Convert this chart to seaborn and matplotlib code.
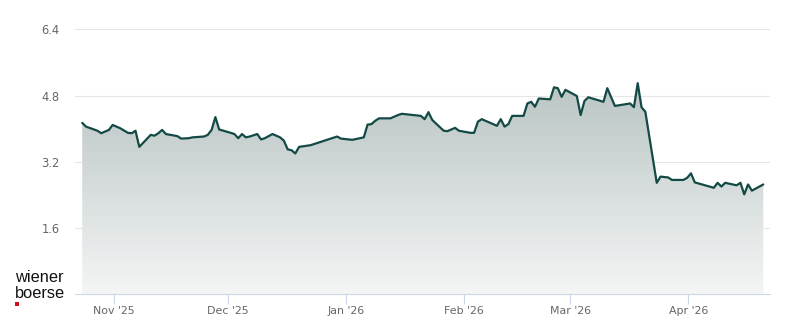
import numpy as np
import pandas as pd
import matplotlib
matplotlib.use("Agg")
import matplotlib.pyplot as plt
import matplotlib.dates as mdates
from matplotlib.colors import LinearSegmentedColormap
from matplotlib.patches import Rectangle
import seaborn as sns

dates = ["2025-10-23", "2025-10-24", "2025-10-27", "2025-10-28", "2025-10-30", "2025-10-31",
         "2025-11-02", "2025-11-04", "2025-11-05", "2025-11-06", "2025-11-07", "2025-11-10",
         "2025-11-11", "2025-11-12", "2025-11-13", "2025-11-14", "2025-11-17", "2025-11-18",
         "2025-11-20", "2025-11-21", "2025-11-24", "2025-11-25", "2025-11-26", "2025-11-27",
         "2025-11-28", "2025-12-01", "2025-12-02", "2025-12-03", "2025-12-04", "2025-12-05",
         "2025-12-06", "2025-12-08", "2025-12-09", "2025-12-10", "2025-12-12", "2025-12-14",
         "2025-12-15", "2025-12-16", "2025-12-17", "2025-12-18", "2025-12-19", "2025-12-22",
         "2025-12-29", "2025-12-30", "2026-01-02", "2026-01-05", "2026-01-06", "2026-01-07",
         "2026-01-08", "2026-01-09", "2026-01-12", "2026-01-14", "2026-01-15", "2026-01-16",
         "2026-01-20", "2026-01-21", "2026-01-22", "2026-01-23", "2026-01-26", "2026-01-27",
         "2026-01-29", "2026-01-30", "2026-02-02", "2026-02-03", "2026-02-04", "2026-02-05",
         "2026-02-09", "2026-02-10", "2026-02-11", "2026-02-12", "2026-02-13", "2026-02-16",
         "2026-02-17", "2026-02-18", "2026-02-19", "2026-02-20", "2026-02-23", "2026-02-24",
         "2026-02-25", "2026-02-26", "2026-02-27", "2026-03-02", "2026-03-03", "2026-03-04",
         "2026-03-05", "2026-03-09", "2026-03-10", "2026-03-12", "2026-03-16", "2026-03-17",
         "2026-03-18", "2026-03-19", "2026-03-20", "2026-03-23", "2026-03-24", "2026-03-26",
         "2026-03-27", "2026-03-30", "2026-03-31", "2026-04-01", "2026-04-02", "2026-04-07",
         "2026-04-08", "2026-04-09", "2026-04-10", "2026-04-13", "2026-04-14", "2026-04-15",
         "2026-04-16", "2026-04-17", "2026-04-20"]

prices = [4.14, 4.05, 3.95, 3.89, 3.97, 4.09,
          4.01, 3.90, 3.89, 3.95, 3.56, 3.85,
          3.83, 3.89, 3.97, 3.87, 3.82, 3.76,
          3.77, 3.79, 3.81, 3.85, 3.97, 4.28,
          3.98, 3.90, 3.87, 3.77, 3.87, 3.79,
          3.81, 3.87, 3.74, 3.77, 3.87, 3.79,
          3.71, 3.50, 3.48, 3.40, 3.56, 3.60,
          3.81, 3.76, 3.73, 3.79, 4.10, 4.11,
          4.19, 4.25, 4.25, 4.33, 4.36, 4.35,
          4.31, 4.23, 4.40, 4.21, 3.95, 3.94,
          4.02, 3.95, 3.90, 3.90, 4.17, 4.23,
          4.07, 4.23, 4.05, 4.11, 4.31, 4.31,
          4.61, 4.65, 4.53, 4.73, 4.71, 5.00,
          4.98, 4.77, 4.94, 4.79, 4.33, 4.67,
          4.76, 4.65, 4.98, 4.55, 4.61, 4.52,
          5.10, 4.52, 4.41, 2.69, 2.84, 2.82,
          2.76, 2.76, 2.81, 2.92, 2.70, 2.57,
          2.69, 2.60, 2.69, 2.63, 2.69, 2.41,
          2.65, 2.50, 2.65]

close_time = "17:35"
y_ticks = [1.6, 3.2, 4.8, 6.4]
x_range = ["2025-10-21 20:00", "2026-04-22 12:00"]

df = pd.DataFrame({"date": pd.to_datetime([d + " " + close_time for d in dates]),
                   "price": prices})

sns.set_style("white")
plt.rcParams["font.family"] = ["DejaVu Sans"]

W, H = 800, 324
fig = plt.figure(figsize=(W / 100, H / 100), dpi=100)
left, right, top, bottom = 75, 770, 25.35, 294
ax = fig.add_axes([left / W, 1 - bottom / H, (right - left) / W, (bottom - top) / H])

xmin, xmax = pd.to_datetime(x_range)
ax.set_xlim(xmin, xmax)
ax.set_ylim(0, 6.5)

# gradient fill under the line
poly = ax.fill_between(df["date"], df["price"], 0, facecolor="none", edgecolor="none")
cmap = LinearSegmentedColormap.from_list("g", ["#f4f5f5", "#b8c4c3"])
grad = np.linspace(0, 1, 256).reshape(-1, 1)
x0, x1 = mdates.date2num(xmin), mdates.date2num(xmax)
im = ax.imshow(grad, cmap=cmap, origin="lower", aspect="auto",
               extent=[x0, x1, 0, 5.2], zorder=1)
im.set_clip_path(poly.get_paths()[0], transform=ax.transData)
ax.set_xlim(xmin, xmax)
ax.set_ylim(0, 6.5)

sns.lineplot(data=df, x="date", y="price", ax=ax, color="#134a45", linewidth=1.6, zorder=3)

ax.set_yticks(y_ticks)
ax.yaxis.grid(True, color="#e6e6e6", linewidth=0.8, zorder=0)
ax.xaxis.grid(False)
ax.set_axisbelow(True)
for s in ["top", "right", "left"]:
    ax.spines[s].set_visible(False)
ax.spines["bottom"].set_color("#ccd6eb")
ax.spines["bottom"].set_linewidth(0.8)

ax.xaxis.set_major_locator(mdates.MonthLocator())
ax.xaxis.set_major_formatter(mdates.DateFormatter("%b '%y"))
ax.tick_params(axis="x", length=7.2, width=0.8, color="#ccd6eb", labelcolor="#666666",
               labelsize=7.9, pad=1.5, direction="out", bottom=True)
ax.tick_params(axis="y", length=0, labelcolor="#666666", labelsize=8.3, pad=11)
ax.set_xlabel("")
ax.set_ylabel("")

# logo
fig.text(15 / W, 1 - 281.7 / H, "wiener", fontfamily="Liberation Sans", fontsize=11.8,
         color="#111111", va="baseline", ha="left")
fig.text(15 / W, 1 - 297.7 / H, "boerse", fontfamily="Liberation Sans", fontsize=11.8,
         color="#111111", va="baseline", ha="left")
fig.patches.append(Rectangle((15 / W, 1 - 306 / H), 4 / W, 4 / H, transform=fig.transFigure,
                             facecolor="#d50a1e", edgecolor="none"))

fig.savefig("out.png", dpi=100)
